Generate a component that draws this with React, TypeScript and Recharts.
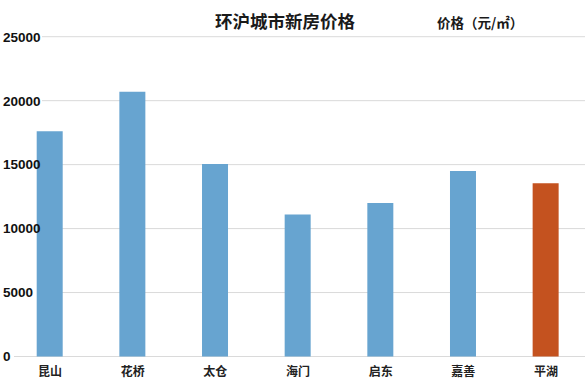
import { Bar, BarChart, CartesianGrid, Cell, XAxis, YAxis } from "recharts"

const cities = ["昆山", "花桥", "太仓", "海门", "启东", "嘉善", "平湖"]
const prices = [17600, 20700, 15050, 11100, 12000, 14500, 13550]
const yTicks = [0, 5000, 10000, 15000, 20000, 25000]
const highlightCity = "平湖"

const data = cities.map((city, i) => ({ city, price: prices[i] }))

const BLUE = "#67a4d0"
const ORANGE = "#c4521f"
const CJK = '"Noto Sans CJK SC", "Noto Sans", sans-serif'

function YTick(props: any) {
  const { y, payload } = props
  return (
    <text x={3} y={y} dy="0.36em" fill="#111" fontSize={13.5} fontWeight={700} fontFamily='"Liberation Sans", Arial, sans-serif' textAnchor="start">
      {payload.value}
    </text>
  )
}

function XTick(props: any) {
  const { x, y, payload } = props
  return (
    <text x={x} y={y} dy={13} fill="#222" fontSize={12} fontWeight={700} fontFamily={CJK} textAnchor="middle">
      {payload.value}
    </text>
  )
}

function GridLine(props: any) {
  const x1 = props.index === 0 ? 14 : 42
  return <line key={`g-${props.index}`} x1={x1} x2={props.x2} y1={props.y1} y2={props.y2} stroke="#dadada" strokeWidth={1} />
}

export default function App() {
  return (
    <div style={{ position: "absolute", left: 0, top: 0, width: 585, height: 379, overflow: "hidden", background: "#fff" }}>
      <div style={{ position: "absolute", left: 215, top: 9, fontFamily: CJK, fontSize: 17.5, fontWeight: 700, color: "#1a1a1a", lineHeight: "24px", zIndex: 2 }}>
        环沪城市新房价格
      </div>
      <div style={{ position: "absolute", left: 437, top: 12, fontFamily: CJK, fontSize: 13.5, fontWeight: 700, color: "#1a1a1a", lineHeight: "20px", zIndex: 2 }}>
        价格（元/㎡）
      </div>
      <BarChart width={600} height={379} data={data} margin={{ top: 36.7, right: 12.7, left: 7.7, bottom: 0 }}>
        <CartesianGrid vertical={false} horizontal={GridLine} />
        <XAxis dataKey="city" axisLine={false} tickLine={false} tick={<XTick />} interval={0} tickMargin={0} height={22.5} />
        <YAxis width={1} domain={[0, 25000]} ticks={yTicks} axisLine={false} tickLine={false} tick={<YTick />} interval={0} />
        <Bar dataKey="price" barSize={26} isAnimationActive={false}>
          {data.map((d) => (
            <Cell key={d.city} fill={d.city === highlightCity ? ORANGE : BLUE} />
          ))}
        </Bar>
      </BarChart>
    </div>
  )
}
